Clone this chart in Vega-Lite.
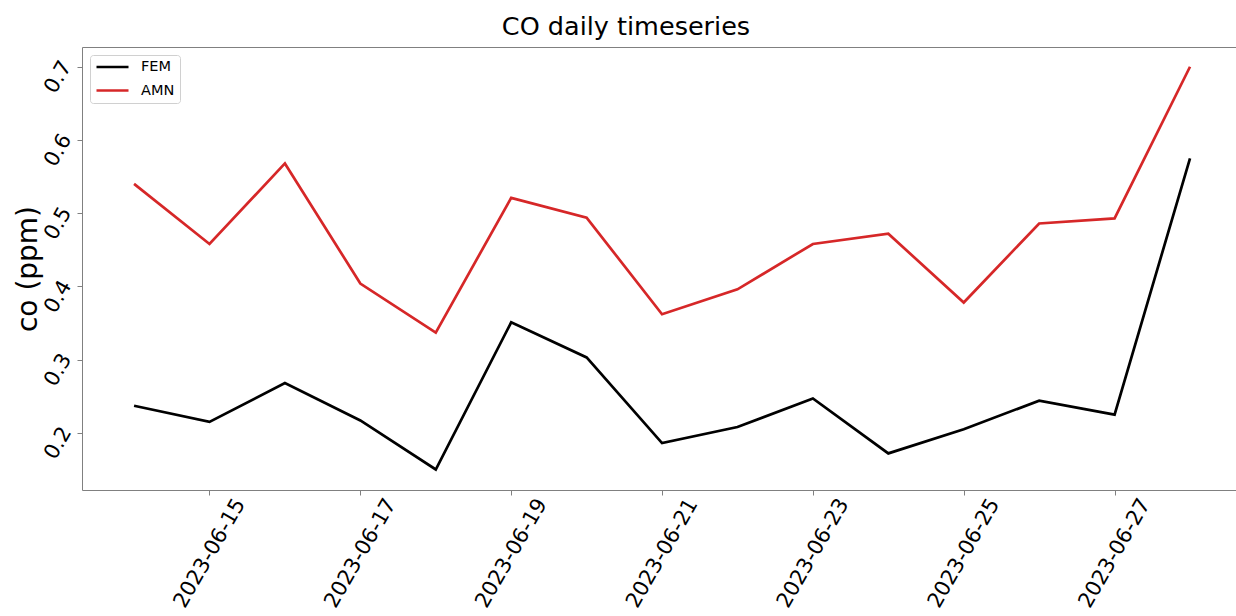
{
  "$schema": "https://vega.github.io/schema/vega-lite/v6.json",
  "autosize": {"type": "none"},
  "padding": {"left": 82, "top": 47, "right": 0, "bottom": 126},
  "width": 1154,
  "height": 443,
  "background": "white",
  "config": {
    "font": "DejaVu Sans",
    "view": {"stroke": null},
    "axis": {"grid": false, "domainColor": "#808080", "tickColor": "#808080", "labelColor": "#000", "titleColor": "#000", "labelFont": "DejaVu Sans", "titleFont": "DejaVu Sans", "titleFontWeight": "normal"}
  },
  "title": {"text": "CO daily timeseries", "fontSize": 25.5, "fontWeight": "normal", "font": "DejaVu Sans", "color": "#000", "anchor": "middle", "offset": 7, "dx": -33},
  "data": {"values": [
    {"date": "2023-06-14", "series": "FEM", "co": 0.237},
    {"date": "2023-06-15", "series": "FEM", "co": 0.215},
    {"date": "2023-06-16", "series": "FEM", "co": 0.268},
    {"date": "2023-06-17", "series": "FEM", "co": 0.217},
    {"date": "2023-06-18", "series": "FEM", "co": 0.150},
    {"date": "2023-06-19", "series": "FEM", "co": 0.351},
    {"date": "2023-06-20", "series": "FEM", "co": 0.303},
    {"date": "2023-06-21", "series": "FEM", "co": 0.186},
    {"date": "2023-06-22", "series": "FEM", "co": 0.208},
    {"date": "2023-06-23", "series": "FEM", "co": 0.247},
    {"date": "2023-06-24", "series": "FEM", "co": 0.172},
    {"date": "2023-06-25", "series": "FEM", "co": 0.205},
    {"date": "2023-06-26", "series": "FEM", "co": 0.244},
    {"date": "2023-06-27", "series": "FEM", "co": 0.225},
    {"date": "2023-06-28", "series": "FEM", "co": 0.575},
    {"date": "2023-06-14", "series": "AMN", "co": 0.540},
    {"date": "2023-06-15", "series": "AMN", "co": 0.458},
    {"date": "2023-06-16", "series": "AMN", "co": 0.568},
    {"date": "2023-06-17", "series": "AMN", "co": 0.404},
    {"date": "2023-06-18", "series": "AMN", "co": 0.337},
    {"date": "2023-06-19", "series": "AMN", "co": 0.521},
    {"date": "2023-06-20", "series": "AMN", "co": 0.494},
    {"date": "2023-06-21", "series": "AMN", "co": 0.362},
    {"date": "2023-06-22", "series": "AMN", "co": 0.396},
    {"date": "2023-06-23", "series": "AMN", "co": 0.458},
    {"date": "2023-06-24", "series": "AMN", "co": 0.472},
    {"date": "2023-06-25", "series": "AMN", "co": 0.378},
    {"date": "2023-06-26", "series": "AMN", "co": 0.486},
    {"date": "2023-06-27", "series": "AMN", "co": 0.493},
    {"date": "2023-06-28", "series": "AMN", "co": 0.700}
  ]},
  "layer": [
    {
      "mark": {"type": "line", "strokeWidth": 2.7},
      "encoding": {
        "x": {
          "field": "date", "type": "temporal",
          "scale": {"type": "utc", "domain": [
            {"year": 2023, "month": 6, "date": 13, "hours": 7, "minutes": 26, "utc": true},
            {"year": 2023, "month": 6, "date": 28, "hours": 14, "minutes": 38, "utc": true}
          ]},
          "axis": {
            "orient": "bottom",
            "title": null,
            "values": [
              {"year": 2023, "month": 6, "date": 15, "utc": true},
              {"year": 2023, "month": 6, "date": 17, "utc": true},
              {"year": 2023, "month": 6, "date": 19, "utc": true},
              {"year": 2023, "month": 6, "date": 21, "utc": true},
              {"year": 2023, "month": 6, "date": 23, "utc": true},
              {"year": 2023, "month": 6, "date": 25, "utc": true},
              {"year": 2023, "month": 6, "date": 27, "utc": true}
            ],
            "format": "%Y-%m-%d",
            "labelAngle": -60,
            "labelAlign": "center",
            "labelBaseline": "middle",
            "labelFontSize": 21,
            "labelPadding": 58,
            "tickSize": 5,
            "labelOverlap": false,
            "labelFlush": false
          }
        },
        "y": {
          "field": "co", "type": "quantitative",
          "scale": {"domain": [0.122, 0.727], "nice": false, "zero": false},
          "axis": {
            "title": "co (ppm)",
            "titleFontSize": 28,
            "titlePadding": -2,
            "values": [0.2, 0.3, 0.4, 0.5, 0.6, 0.7],
            "format": ".1f",
            "labelAngle": -60,
            "labelAlign": "center",
            "labelBaseline": "middle",
            "labelFontSize": 21,
            "labelPadding": 19,
            "labelOffset": 10,
            "labelFlush": false,
            "tickSize": 5
          }
        },
        "color": {
          "field": "series", "type": "nominal",
          "scale": {"domain": ["FEM", "AMN"], "range": ["#000000", "#d62728"]},
          "legend": {
            "title": null,
            "orient": "top-left",
            "offset": 8,
            "symbolType": "stroke",
            "symbolSize": 1024,
            "symbolStrokeWidth": 2.7,
            "clipHeight": 14,
            "labelFontSize": 14.5,
            "labelFont": "DejaVu Sans",
            "labelColor": "#000",
            "rowPadding": 8.5,
            "padding": 5,
            "strokeColor": "#d0d0d0",
            "fillColor": "white",
            "cornerRadius": 3,
            "labelOffset": 11
          }
        }
      }
    },
    {
      "mark": {"type": "line", "opacity": 0},
      "encoding": {
        "x": {
          "field": "date", "type": "temporal",
          "axis": {"orient": "top", "title": null, "labels": false, "ticks": false, "domain": true}
        },
        "y": {"field": "co", "type": "quantitative"},
        "detail": {"field": "series"}
      }
    }
  ],
  "resolve": {"axis": {"x": "independent"}}
}
